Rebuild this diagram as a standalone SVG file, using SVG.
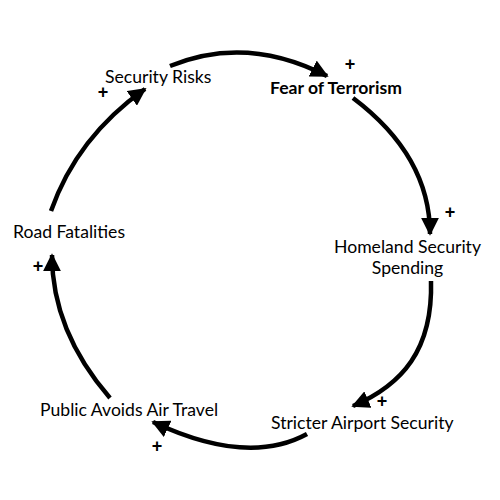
<svg xmlns="http://www.w3.org/2000/svg" width="500" height="500" viewBox="0 0 500 500">
<style>
.lbl{font-family:Lato,"Open Sans",sans-serif;font-size:17.6px;fill:#000}
.b{font-weight:bold}
.plus{font-family:"Liberation Sans",Arial,sans-serif;font-size:18px;font-weight:bold;fill:#000;text-anchor:middle}
.arc{fill:none;stroke:#000;stroke-width:4.5;marker-end:url(#ah)}
</style>
<defs>
<marker id="ah" viewBox="0 0 10 10" refX="9" refY="5" markerWidth="4" markerHeight="4" orient="auto" markerUnits="strokeWidth">
<path d="M0,0 L10,5 L0,10 z" fill="#000"/>
</marker>
</defs>
<rect width="500" height="500" fill="#fff"/>
<g id="connectors">
<path class="arc" d="M170,66 Q246.5,34.5 327,76"/>
<path class="arc" d="M353,98 Q430,156 430,234"/>
<path class="arc" d="M431,281 C433,350 402,385 353,406"/>
<path class="arc" d="M307,434 Q247.5,466.5 153,422"/>
<path class="arc" d="M110,398 Q52,331 52,255"/>
<path class="arc" d="M51,211 Q77,137 145,89"/>
</g>
<g id="security-risks"><text class="lbl" x="105" y="83">Security Risks</text></g>
<g id="fear-of-terrorism"><text class="lbl b" x="270" y="94">Fear of Terrorism</text></g>
<g id="homeland-security-spending"><text class="lbl" x="407.5" y="253" text-anchor="middle">Homeland Security</text><text class="lbl" x="407.5" y="274" text-anchor="middle">Spending</text></g>
<g id="stricter-airport-security"><text class="lbl" x="271" y="429">Stricter Airport Security</text></g>
<g id="public-avoids-air-travel"><text class="lbl" x="40" y="416">Public Avoids Air Travel</text></g>
<g id="road-fatalities"><text class="lbl" x="13" y="238">Road Fatalities</text></g>
<g id="signs">
<text class="plus" x="350" y="70">+</text>
<text class="plus" x="103" y="98">+</text>
<text class="plus" x="450" y="218">+</text>
<text class="plus" x="382" y="407">+</text>
<text class="plus" x="157" y="452">+</text>
<text class="plus" x="38" y="272">+</text>
</g>
</svg>
